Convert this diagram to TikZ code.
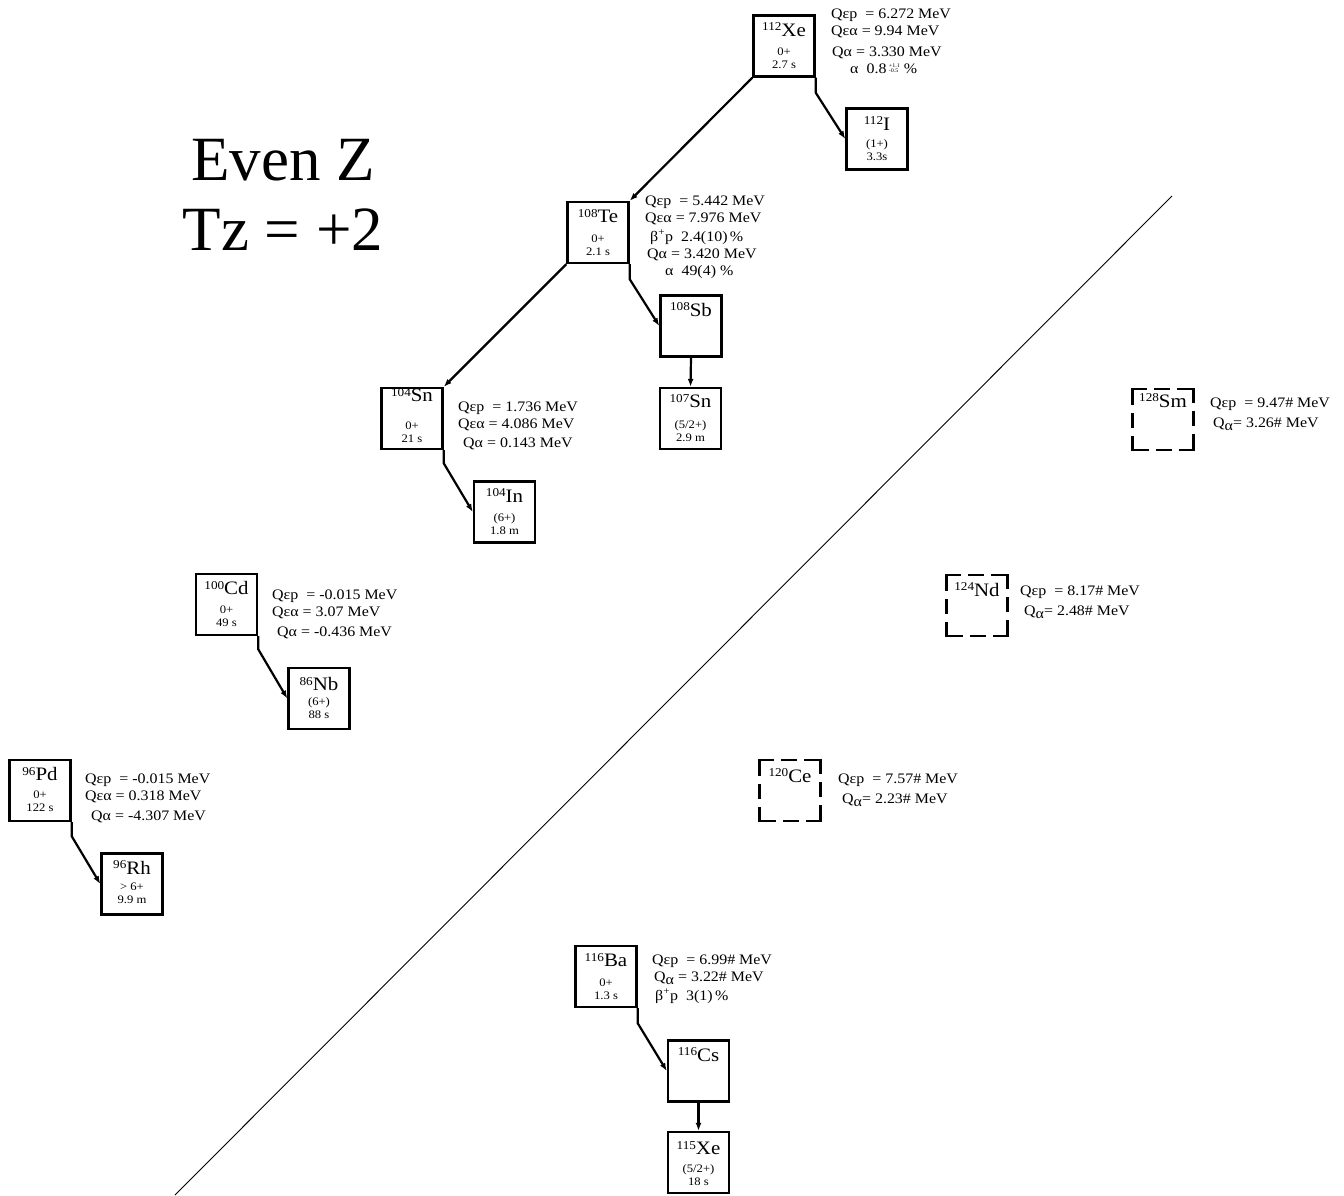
\documentclass[tikz,border=0pt]{standalone}
\usepackage{fontspec}
\setmainfont{Liberation Serif}
\newfontfamily\qf{Liberation Serif}[FakeStretch=1.1]
\usetikzlibrary{arrows.meta}
\newcommand\fsT{\fontsize{63}{70}\selectfont}
\newcommand\fsQ{\qf\fontsize{14.5}{17}\selectfont}
\newcommand\fsN{\qf\fontsize{19}{20}\selectfont}
\newcommand\fsS{\qf\fontsize{11.5}{13}\selectfont}
\newcommand\fsM{\qf\fontsize{12}{12}\selectfont}
\newcommand\mass[1]{\raisebox{5.5pt}{\fsM #1}}
\newcommand\lowa{\raisebox{-0.45ex}{α}}
\newcommand\errs[2]{\raisebox{0.5pt}{\qf\fontsize{5.5}{5.5}\selectfont
  \renewcommand\arraystretch{0.95}\setlength\tabcolsep{0pt}\begin{tabular}[b]{l}#1\\#2\end{tabular}}}
\newcommand\bp{β\textsuperscript{+}p}
% box and element label: [baseline offset]{id}{style}{x,y}{A}{El}
\newcommand\nuc[6][22]{%
  \node[#3] (#2) at (#4) {};
  \node[elname] (#2n) at ([yshift=-#1pt]#2.north) {\mass{#5}#6};}

\begin{document}
\begin{tikzpicture}[x=1pt,y=-1pt,
  nucbox/.style={draw,line width=2.4pt,minimum size=61pt,inner sep=0},
  predbox/.style={minimum size=61pt,inner sep=0,outer sep=0},
  dashside/.style={line width=2.4pt,line cap=rect,dash pattern=on 13pt off 10pt},
  elname/.style={anchor=base,font=\fsN,inner sep=0},
  info/.style={anchor=base,align=center,font=\fsS,inner sep=0},
  qblk/.style={anchor=base west,align=left,font=\fsQ,inner sep=0},
  decay/.style={line width=2.2pt,-{Latex[length=8pt,width=6pt]}},
  drip/.style={line width=0.9pt},
  title/.style={anchor=base,align=center,font=\fsT,inner sep=0}]
\useasboundingbox (0,0) rectangle (1344,1195);
% ============ title ============
\node[title] (ttl) at (283,250) {Even Z\\Tz = +2};
% ============ measured chain ============
% (info nodes sit on their last baseline)
\nuc{xe112}{nucbox}{784,46}{112}{Xe}
\node[info] (xe112i) at ([yshift=-54pt]xe112.north) {0+\\2.7 s};
\nuc[23]{i112}{nucbox}{877,139}{112}{I}
\node[info] (i112i) at ([yshift=-53pt]i112.north) {(1+)\\3.3s};
\nuc{te108}{nucbox}{598,232.5}{108}{Te}
\node[info] (te108i) at ([yshift=-55pt]te108.north) {0+\\2.1 s};
\nuc{sb108}{nucbox}{691,326}{108}{Sb}
\nuc[21]{sn107}{nucbox}{690.5,418.5}{107}{Sn}
\node[info] (sn107i) at ([yshift=-55pt]sn107.north) {(5/2+)\\2.9 m};
\nuc[15]{sn104}{nucbox}{412,418.5}{104}{Sn}
\node[info] (sn104i) at ([yshift=-56pt]sn104.north) {0+\\21 s};
\nuc{in104}{nucbox}{504.5,512}{104}{In}
\node[info] (in104i) at ([yshift=-54pt]in104.north) {(6+)\\1.8 m};
\nuc{cd100}{nucbox}{226.5,604.5}{100}{Cd}
\node[info] (cd100i) at ([yshift=-54pt]cd100.north) {0+\\49 s};
\nuc[24]{nb86}{nucbox}{319,698.5}{86}{Nb}
\node[info] (nb86i) at ([yshift=-52pt]nb86.north) {(6+)\\88 s};
\nuc{pd96}{nucbox}{40,790.5}{96}{Pd}
\node[info] (pd96i) at ([yshift=-53pt]pd96.north) {0+\\122 s};
\nuc{rh96}{nucbox}{132,884}{96}{Rh}
\node[info] (rh96i) at ([yshift=-51pt]rh96.north) {> 6+\\9.9 m};
\nuc{ba116}{nucbox}{606,976.5}{116}{Ba}
\node[info] (ba116i) at ([yshift=-55pt]ba116.north) {0+\\1.3 s};
\nuc{cs116}{nucbox}{698.5,1071}{116}{Cs}
\nuc[24]{xe115}{nucbox}{698.5,1162.5}{115}{Xe}
\node[info] (xe115i) at ([yshift=-55pt]xe115.north) {(5/2+)\\18 s};
% decays
\draw[decay] (xe112.south west) -- (te108.north east);
\draw[decay] (xe112.south east) -- ++(0,15) -- (i112.west);
\draw[decay] (te108.south west) -- (sn104.north east);
\draw[decay] (te108.south east) -- ++(0,15) -- (sb108.west);
\draw[decay] (sb108.south) -- (sn107.north);
\draw[decay] (sn104.south east) -- ++(0,13) -- (in104.west);
\draw[decay] (cd100.south east) -- ++(0,13) -- (nb86.west);
\draw[decay] (pd96.south east) -- ++(0,14) -- (rh96.west);
\draw[decay] (ba116.south east) -- ++(0,15) -- (cs116.west);
\draw[decay] (cs116.south) -- (xe115.north);
% Q values
\node[qblk] (xe112q) at (831,73) {Qεp~ = 6.272 MeV\\Qεα = 9.94 MeV\\[4pt]
  \hspace*{1pt}Qα = 3.330 MeV\\\hspace*{19pt}α~ 0.8\,\errs{+1.1}{-0.5} \%};
\node[qblk] (te108q) at (645,275) {Qεp~ = 5.442 MeV\\Qεα = 7.976 MeV\\[2pt]
  \hspace*{5pt}\bp~ 2.4(10)\,\%\\\hspace*{2pt}Qα = 3.420 MeV\\\hspace*{20pt}α~ 49(4) \%};
\node[qblk] (sn104q) at (458,447) {Qεp~ = 1.736 MeV\\Qεα = 4.086 MeV\\[2pt]
  \hspace*{5pt}Qα = 0.143 MeV};
\node[qblk] (cd100q) at (272,636) {Qεp~ = -0.015 MeV\\Qεα = 3.07 MeV\\[3pt]
  \hspace*{5pt}Qα = -0.436 MeV};
\node[qblk] (pd96q) at (85,820) {Qεp~ = -0.015 MeV\\Qεα = 0.318 MeV\\[3pt]
  \hspace*{6pt}Qα = -4.307 MeV};
\node[qblk] (ba116q) at (652,1000) {Qεp~ = 6.99\# MeV\\\hspace*{2pt}Q\lowa{} = 3.22\# MeV\\[2pt]
  \hspace*{3pt}\bp~ 3(1)\,\%};
% ============ predicted ============
\nuc[18]{sm128}{predbox}{1163,419.5}{128}{Sm}
\nuc[21]{nd124}{predbox}{977,605.5}{124}{Nd}
\nuc{ce120}{predbox}{790,790.5}{120}{Ce}
\foreach \n in {sm128,nd124,ce120}
  \draw[dashside] (\n.north west) -- (\n.north east) (\n.north east) -- (\n.south east)
    (\n.south east) -- (\n.south west) (\n.south west) -- (\n.north west);
\node[qblk] (sm128q) at (1210,427) {Qεp~ = 9.47\# MeV\\[3pt]\hspace*{3pt}Q\lowa= 3.26\# MeV};
\node[qblk] (nd124q) at (1020,615) {Qεp~ = 8.17\# MeV\\[3pt]\hspace*{4pt}Q\lowa= 2.48\# MeV};
\node[qblk] (ce120q) at (838,803) {Qεp~ = 7.57\# MeV\\[3pt]\hspace*{4pt}Q\lowa= 2.23\# MeV};
% ============ boundary ============
\coordinate (bndlo) at (175,1195);
\coordinate (bndhi) at (1172,196);
\draw[drip] (bndlo) -- (bndhi);
\end{tikzpicture}
\end{document}
